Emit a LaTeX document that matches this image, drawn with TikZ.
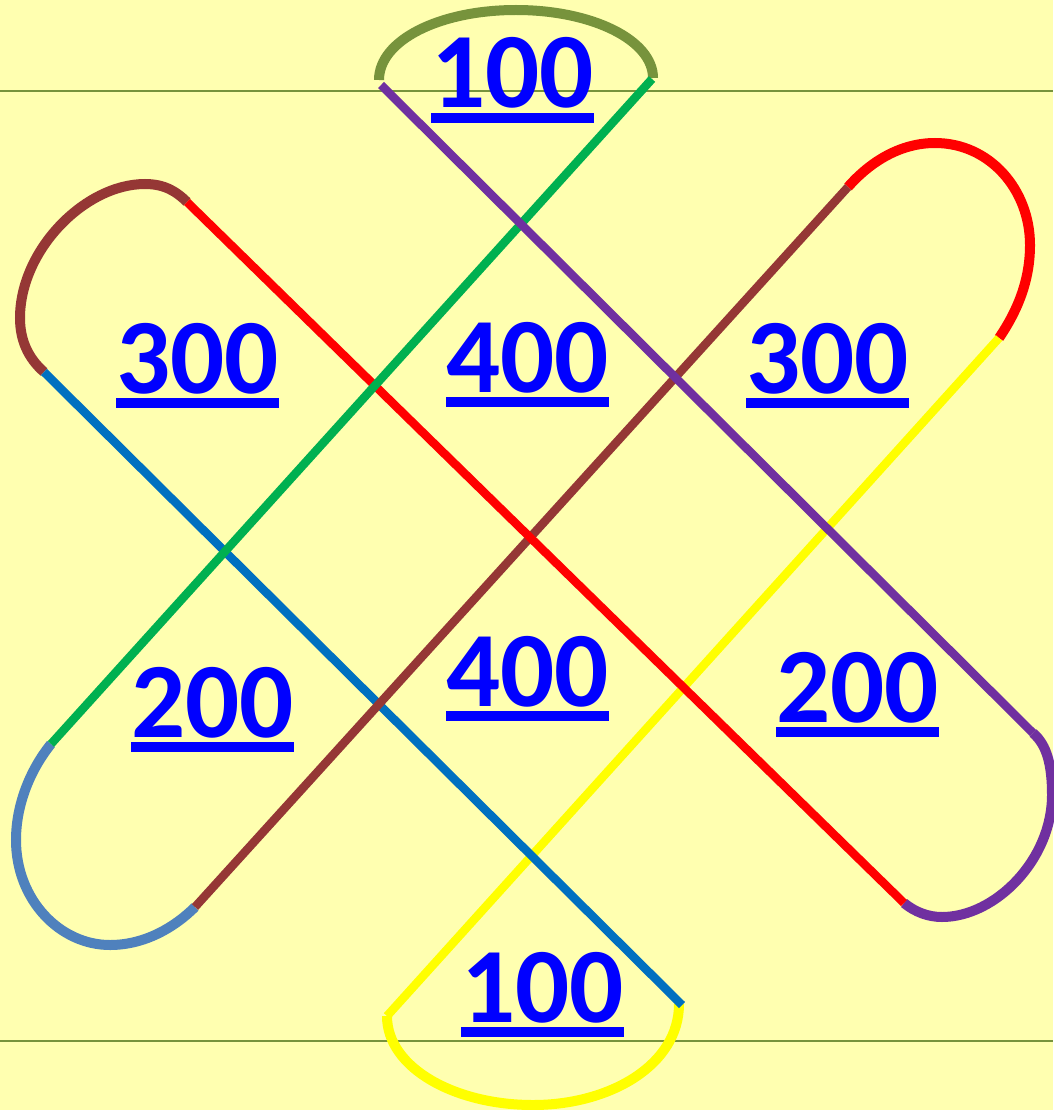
\documentclass[tikz,border=0pt]{standalone}
\usepackage{fontspec}
\setmainfont{Carlito}
\usetikzlibrary{calc}
\definecolor{bg}{HTML}{FFFFB0}
\definecolor{rulecol}{HTML}{77933C}
\definecolor{olivearc}{HTML}{77933C}
\definecolor{cpurple}{HTML}{7030A0}
\definecolor{cgreen}{HTML}{00B050}
\definecolor{cred}{HTML}{FF0000}
\definecolor{cbrown}{HTML}{953735}
\definecolor{cblue}{HTML}{0070C0}
\definecolor{cyellow}{HTML}{FFFF00}
\definecolor{cgreyblue}{HTML}{4F81BD}
\definecolor{numblue}{HTML}{0000FF}
\tikzset{
  seg/.style={line width=8.5pt},
  loopline/.style={line width=10pt},
  guide/.style={line width=2pt, draw=rulecol},
  lbl/.style={font=\fontsize{107}{107}\selectfont\bfseries, text=numblue, inner sep=0pt, anchor=base},
}
\begin{document}
\begin{tikzpicture}[x=1pt,y=-1pt]
\fill[bg] (0,0) rectangle (1053,1110);
\useasboundingbox (0,0) rectangle (1053,1110);

% guide lines
\coordinate (h1a) at (0,91);   \coordinate (h1b) at (1053,91);
\coordinate (h2a) at (0,1041); \coordinate (h2b) at (1053,1041);
\draw[guide] (h1a) -- (h1b);
\draw[guide] (h2a) -- (h2b);

% end points
\coordinate (P1) at (381,85);
\coordinate (P2) at (1033,733);
\coordinate (G1) at (652,79);
\coordinate (G2) at (51,744);
\coordinate (R1) at (187,202);
\coordinate (R2) at (904,903);
\coordinate (B1) at (848,187);
\coordinate (B2) at (195,907);
\coordinate (L1) at (44,372);
\coordinate (L2) at (682,1005);
\coordinate (Y1) at (999,338);
\coordinate (Y2) at (387,1016);

% loops
\draw[loopline, olivearc] (379,80) .. controls (379,40) and (440,10) .. (516,10)
   .. controls (592,10) and (653,40) .. (653,78);
\draw[loopline, cbrown] (L1) .. controls (28,358) and (20,340) .. (20,318)
   .. controls (20,250) and (85,184) .. (145,184)
   .. controls (165,184) and (177,192) .. (R1);
\draw[loopline, cred] (B1) .. controls (870,162) and (900,143) .. (935,143)
   .. controls (990,143) and (1030,190) .. (1030,245)
   .. controls (1030,280) and (1018,310) .. (Y1);
\draw[loopline, cgreyblue] (G2) .. controls (30,770) and (16,805) .. (16,840)
   .. controls (16,900) and (60,945) .. (110,945)
   .. controls (145,945) and (175,927) .. (B2);
\draw[loopline, cpurple] (P2) .. controls (1047,745) and (1052,765) .. (1052,795)
   .. controls (1052,860) and (995,917) .. (942,917)
   .. controls (928,917) and (915,912) .. (R2);
\draw[loopline, cyellow] (Y2) .. controls (387,1068) and (455,1105) .. (533,1105)
   .. controls (610,1105) and (679,1065) .. (679,1004);

% straight lines
\draw[seg, cyellow] (Y1) -- (Y2);
\draw[seg, cblue] (L1) -- (L2);
\draw[seg, cbrown] (B1) -- (B2);
\draw[seg, cred] (R1) -- (R2);
\draw[seg, cgreen] (G1) -- (G2);
\draw[seg, cpurple] (P1) -- (P2);

% labels
\node[lbl] (t100) at (512.5,108) {100};
\node[lbl] (l300) at (197.5,393) {300};
\node[lbl] (u400) at (527.5,392) {400};
\node[lbl] (r300) at (827.5,393) {300};
\node[lbl] (l200) at (212.5,737) {200};
\node[lbl] (d400) at (527.5,706) {400};
\node[lbl] (r200) at (857.5,722) {200};
\node[lbl] (b100) at (542.5,1022) {100};
\foreach \n in {t100,l300,u400,r300,l200,d400,r200,b100}{
  \fill[numblue] ($(\n.base west)+(0,5)$) rectangle ($(\n.base east)+(0,15)$);
}
\end{tikzpicture}
\end{document}
